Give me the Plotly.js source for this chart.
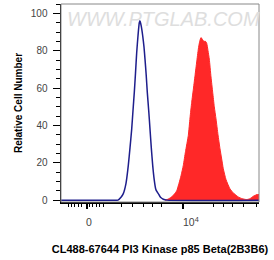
<!DOCTYPE html>
<html>
<head>
<meta charset="utf-8">
<script src="https://cdn.plot.ly/plotly-3.0.1.min.js"></script>
<style>html,body{margin:0;padding:0;background:#fff;}#chart{width:274px;height:260px;}</style>
</head>
<body>
<div id="chart"></div>
<script>
// x in display units (0 label at 0, 10^4 label at 96)
const isotypeX = [-26, 20, 31, 34, 36.3, 39, 41.3, 43, 44.7, 46, 47.3, 48.5, 49.7, 51, 52.3, 53, 54.3, 55.7, 57, 58, 59.2, 60.3, 61.7, 63, 64.3, 65.7, 67.2, 68.7, 70, 71.3, 73.5, 76.3, 79.7, 172];
const isotypeY = [0, 0, 0, 1.5, 3.5, 9, 18.6, 28, 38, 48, 57.7, 68, 79, 88, 95, 96, 93, 88, 82, 75.5, 67, 57.7, 48, 38, 28, 18.6, 11, 6, 4.5, 3.5, 1.5, 0.5, 0, 0];
const antibodyX = [78, 81, 84, 87, 89.7, 92, 94, 96.3, 98.5, 101.3, 103, 104.7, 106.5, 108, 109.7, 111.3, 112.7, 114, 115.5, 117, 118.5, 119.7, 121, 122.3, 124, 125.7, 127.3, 129, 131, 133, 134.7, 136.3, 139, 143, 147, 151.3, 155, 159.7, 163, 166, 168, 170, 172];
const antibodyY = [0, 0.5, 1.5, 3, 5, 9, 13, 18.6, 26, 34.6, 44, 52.4, 60, 66.6, 74, 80.8, 85, 87, 86, 85, 85, 84, 80, 75.5, 66, 57.7, 50, 43.5, 35, 27.5, 22, 16.8, 11, 6, 3.5, 1.7, 0.8, 0.3, 0.8, 2, 2.5, 3, 3];
const xTickVals = [0, 96];
const xTickText = ["0", "\u00a0\u00a0\u00a0\u00a010<sup>4</sup>"];
const xMinorVals = [-19, -16, -12.5, -9, -5.5, 2, 5.5, 9, 12.5, 16, 34.7, 45, 56, 65.7, 74.7, 126, 136, 145.7, 156, 169.7];
const yTickVals = [0, 20, 40, 60, 80, 100];

const traces = [
  {x: antibodyX, y: antibodyY, type: 'scatter', mode: 'lines', fill: 'tozeroy',
   fillcolor: 'rgb(255,40,40)', line: {color: 'rgb(255,40,40)', width: 1, shape: 'spline', smoothing: 0.5}, hoverinfo: 'skip'},
  {x: isotypeX, y: isotypeY, type: 'scatter', mode: 'lines',
   line: {color: 'rgb(30,30,140)', width: 1.5, shape: 'spline', smoothing: 0.5}, hoverinfo: 'skip'}
];

const layout = {
  width: 274, height: 260,
  margin: {l: 61, r: 15, t: 4, b: 58},
  paper_bgcolor: '#fff', plot_bgcolor: '#fff',
  showlegend: false,
  font: {family: 'Liberation Sans, Arial, sans-serif', color: '#333'},
  xaxis: {
    range: [-26, 172], showgrid: false, zeroline: false,
    showline: true, linecolor: '#000', linewidth: 1.5,
    tickmode: 'array', tickvals: xTickVals, ticktext: xTickText,
    ticks: 'outside', ticklen: 5, tickwidth: 2, tickcolor: '#000',
    ticklabelstandoff: 5, ticklabelshift: 2,
    tickfont: {size: 10.5, color: '#444'},
    minor: {tickmode: 'array', tickvals: xMinorVals, ticks: 'outside', ticklen: 3, tickwidth: 1, tickcolor: '#000'},
    title: {text: 'CL488-67644 PI3 Kinase p85 Beta(2B3B6)', font: {size: 11, color: '#000', family: 'Liberation Sans, Arial, sans-serif', weight: 'bold'}, standoff: 18}
  },
  yaxis: {
    range: [-1, 105], showgrid: false, zeroline: false,
    showline: true, linecolor: '#000', linewidth: 1.5,
    tickmode: 'array', tickvals: yTickVals,
    ticks: 'outside', ticklen: 7, tickwidth: 1, tickcolor: '#000',
    ticklabelstandoff: 3,
    tickfont: {size: 10, color: '#444'},
    minor: {dtick: 5, ticks: 'outside', ticklen: 4, tickwidth: 1, tickcolor: '#000'},
    title: {text: 'Relative Cell Number', font: {size: 10, color: '#000', family: 'Liberation Sans, Arial, sans-serif', weight: 'bold'}, standoff: 6}
  },
  shapes: [
    {type: 'rect', xref: 'paper', yref: 'paper', x0: 0, x1: 1, y0: 0, y1: 1, line: {color: '#888', width: 1}, layer: 'above'}
  ],
  annotations: [
    {xref: 'paper', yref: 'paper', x: 0.52, y: 0.99, yanchor: 'top', showarrow: false,
     text: '<i>WWW.PTGLAB.COM</i>', font: {size: 20, color: '#dedede', family: 'Liberation Sans, Arial, sans-serif'}}
  ]
};

Plotly.newPlot('chart', traces, layout, {displayModeBar: false, staticPlot: true});
</script>
</body>
</html>
